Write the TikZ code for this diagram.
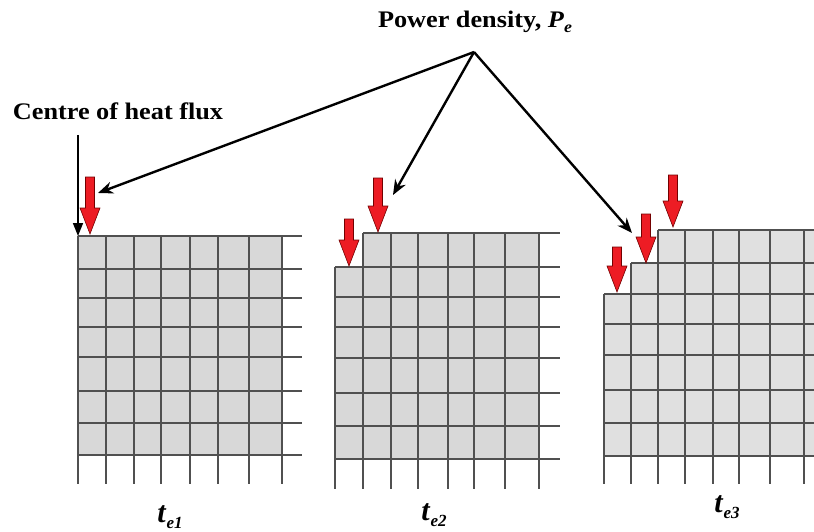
\documentclass[tikz,border=0pt]{standalone}
\usepackage{fontspec}
\setmainfont{Liberation Serif}
\usetikzlibrary{arrows.meta}

\definecolor{cellgray}{RGB}{216,216,216}
\definecolor{cellgraylight}{RGB}{224,224,224}
\definecolor{gridgray}{RGB}{80,80,80}
\definecolor{fluxred}{RGB}{237,28,36}

\tikzset{
  cellline/.style={gridgray, line width=1.1pt},
  heatarrow/.style={fill=fluxred, draw=red!45!black, line width=0.6pt, line join=miter},
  pointer/.style={line width=2.4pt, -{Stealth[length=15pt,width=12pt]}},
  lbl/.style={font=\fontsize{25}{28}\selectfont\bfseries, inner sep=0pt, anchor=base},
  timelbl/.style={lbl, font=\fontsize{30}{32}\selectfont\bfseries}
}

% red flux arrow: x, top, tip
\newcommand{\fluxarrow}[3]{%
  \draw[heatarrow] (#1-4.5,#2) -- (#1+4.5,#2) -- (#1+4.5,#3-26) -- (#1+10,#3-26)
    -- (#1,#3) -- (#1-10,#3-26) -- (#1-4.5,#3-26) -- cycle;}
\newcommand{\lowidx}[2]{\raisebox{-#1}{\fontsize{17}{17}\selectfont\bfseries\itshape #2}}

\begin{document}
\begin{tikzpicture}[x=1pt, y=-1pt]
  \useasboundingbox (0,0) rectangle (814,532);

  % Mesh at t_e1
  \fill[cellgray] (78,236) rectangle (282,455);
  \foreach \y in {236,269,298,327,357,391,423,455}
    \draw[cellline] (78,\y) -- (302,\y);
  \foreach \x in {78,106,134,161,190,218,249,282}
    \draw[cellline] (\x,236) -- (\x,484);

  % Mesh at t_e2
  \fill[cellgray] (335,267) -- (363,267) -- (363,233) -- (539,233) -- (539,459) -- (335,459) -- cycle;
  \draw[cellline] (363,233) -- (560,233);
  \foreach \y in {267,297,327,358,393,426,459}
    \draw[cellline] (335,\y) -- (560,\y);
  \draw[cellline] (335,267) -- (335,489);
  \foreach \x in {363,391,418,448,474,505,539}
    \draw[cellline] (\x,233) -- (\x,489);

  % Mesh at t_e3
  \fill[cellgraylight] (604,294) -- (631,294) -- (631,263) -- (658,263) -- (658,230) -- (814,230)
    -- (814,456) -- (604,456) -- cycle;
  \draw[cellline] (658,230) -- (814,230);
  \draw[cellline] (631,263) -- (814,263);
  \foreach \y in {294,324,355,390,423,456}
    \draw[cellline] (604,\y) -- (814,\y);
  \draw[cellline] (604,294) -- (604,484);
  \draw[cellline] (631,263) -- (631,484);
  \foreach \x in {658,685,713,739,770,804}
    \draw[cellline] (\x,230) -- (\x,484);

  % Heat flux arrows
  \fluxarrow{90}{177}{234}
  \fluxarrow{349}{219}{266}
  \fluxarrow{378}{178}{232}
  \fluxarrow{617}{247}{292}
  \fluxarrow{646}{214}{263}
  \fluxarrow{673}{175}{227}

  % Labels
  \node[lbl] (power) at (475,28) {\scalebox{1.05}[0.95]{Power density, \textit{P}\lowidx{4.5pt}{e}}};
  \node[lbl] (centre) at (118,120) {\scalebox{1.05}[0.95]{Centre of heat flux}};
  \node[timelbl] (te1) at (170,522) {\textit{t}\lowidx{6pt}{e1}};
  \node[timelbl] (te2) at (434,520) {\textit{t}\lowidx{6pt}{e2}};
  \node[timelbl] (te3) at (727,512) {\textit{t}\lowidx{6pt}{e3}};

  % Pointers
  \coordinate (apex) at (474,52);
  \coordinate (hit1) at (98,193);
  \coordinate (hit2) at (393,195);
  \coordinate (hit3) at (632,233);
  \coordinate (fluxtop) at (78,135);
  \coordinate (corner1) at (78,236);
  \draw[pointer] (apex) -- (hit1);
  \draw[pointer] (apex) -- (hit2);
  \draw[pointer] (apex) -- (hit3);
  \draw[line width=1.6pt, -{Triangle[length=13pt,width=10pt]}] (fluxtop) -- (corner1);
\end{tikzpicture}
\end{document}
